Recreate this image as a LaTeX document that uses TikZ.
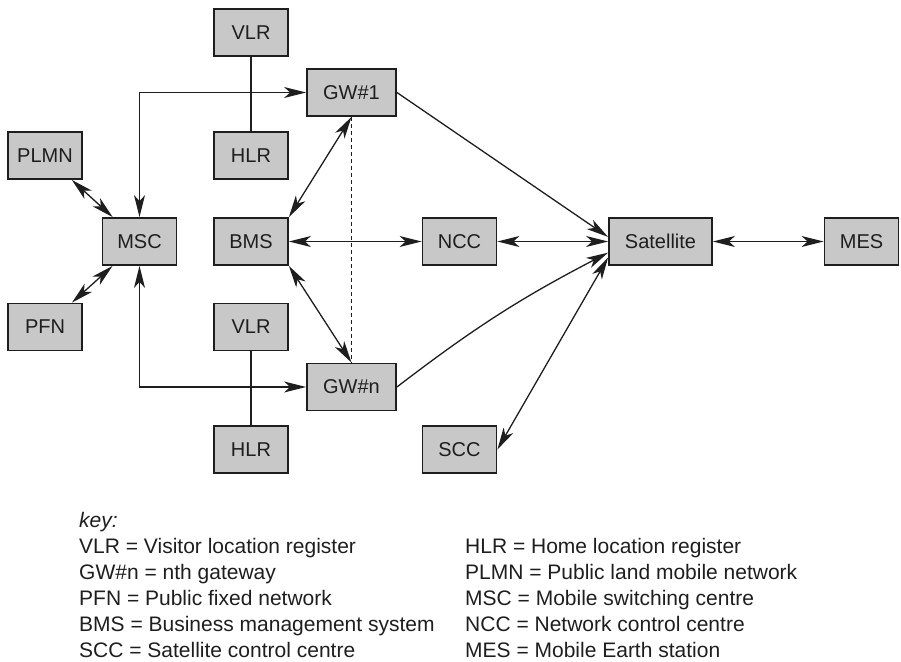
\documentclass[tikz,border=0pt]{standalone}
\usepackage{fontspec}
\setmainfont{Liberation Sans}
\usetikzlibrary{arrows.meta,calc}
\definecolor{boxgray}{RGB}{200,200,200}
\definecolor{ink}{RGB}{30,30,30}
\tikzset{
  tipa/.tip={Stealth[length=22pt,width=11pt,inset=6pt]},
  box/.style={draw=ink, line width=1.8pt, fill=boxgray, minimum height=47pt, minimum width=74pt, inner sep=0pt, text=ink, font=\fontsize{20}{24}\selectfont},
  widebox/.style={box, minimum width=89pt},
  conn/.style={line width=1.3pt, draw=ink},
  twoway/.style={conn, tipa-tipa},
  oneway/.style={conn, -tipa},
  keytext/.style={anchor=base west, inner sep=0pt, text=ink, font=\fontsize{21}{26}\selectfont}
}
\begin{document}
\begin{tikzpicture}[x=1pt,y=-1pt]
\useasboundingbox (0,0) rectangle (901,661);

% boxes
\node[box] (VLRa) at (251,32.5) {VLR};
\node[widebox] (GW1) at (351.5,92.5) {GW\#1};
\node[box] (HLRa) at (251,155.5) {HLR};
\node[box] (PLMN) at (45,155.5) {PLMN};
\node[box] (MSC) at (139.5,241.5) {MSC};
\node[box] (BMS) at (251,241.5) {BMS};
\node[box] (NCC) at (459.5,241.5) {NCC};
\node[box, minimum width=103pt] (SAT) at (660.5,241.5) {Satellite};
\node[box] (MES) at (861.5,241.5) {MES};
\node[box] (PFN) at (45,327) {PFN};
\node[box] (VLRb) at (251,327) {VLR};
\node[widebox] (GWn) at (351.5,387) {GW\#n};
\node[box] (HLRb) at (251,449.5) {HLR};
\node[box] (SCC) at (459.5,449.5) {SCC};

% connectors
\draw[conn] (VLRa) -- (HLRa);
\draw[conn] (VLRb) -- (HLRb);
\draw[twoway] (MSC.north) |- (GW1.west);
\draw[twoway] (MSC.south) |- (GWn.west);
\draw[twoway] (PLMN) -- (MSC);
\draw[twoway] (PFN) -- (MSC);
\draw[twoway] (GW1.south) -- (BMS.north east);
\draw[twoway] (BMS.south east) -- (GWn.north);
\draw[conn, line width=0.9pt, dash pattern=on 4pt off 3pt] (GW1.south) -- (GWn.north);
\draw[twoway] (BMS) -- (NCC);
\draw[twoway] (NCC) -- (SAT);
\draw[twoway] (SAT) -- (MES);
\draw[oneway] (GW1.east) -- (SAT.175);
\draw[oneway] (GWn.east) to[bend left=5] (SAT.192);
\draw[twoway] (SCC.east) -- (SAT.197);

% key
\node[keytext] (k0) at (79,527) {\itshape key:};
\node[keytext] (k1) at (79,553) {VLR = Visitor location register};
\node[keytext] (k2) at (79,579) {GW\#n = nth gateway};
\node[keytext] (k3) at (79,605) {PFN = Public fixed network};
\node[keytext] (k4) at (79,631) {BMS = Business management system};
\node[keytext] (k5) at (79,657) {SCC = Satellite control centre};
\node[keytext] (r1) at (465,553) {HLR = Home location register};
\node[keytext] (r2) at (465,579) {PLMN = Public land mobile network};
\node[keytext] (r3) at (465,605) {MSC = Mobile switching centre};
\node[keytext] (r4) at (465,631) {NCC = Network control centre};
\node[keytext] (r5) at (465,657) {MES = Mobile Earth station};
\end{tikzpicture}
\end{document}
